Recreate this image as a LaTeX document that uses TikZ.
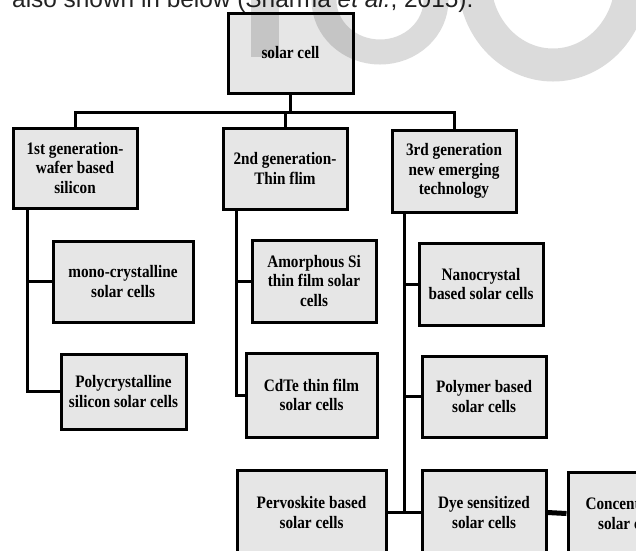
\documentclass[tikz,border=0pt]{standalone}
\usepackage{fontspec}
\newfontfamily\boxfont{Liberation Serif}[FakeStretch=0.87]
\newfontfamily\hdrfont{Liberation Sans}
\definecolor{boxgray}{HTML}{E6E6E6}
\definecolor{hdrgray}{HTML}{222222}
\begin{document}
\begin{tikzpicture}[x=1pt,y=-1pt,
  box/.style={draw=black, line width=3pt, fill=boxgray, inner sep=0pt, align=center,
    font=\boxfont\bfseries\fontsize{17.5}{19.5}\selectfont},
  conn/.style={line width=3pt},
  thickconn/.style={line width=5pt},
  wmark/.style={black, opacity=0.14}]
\useasboundingbox (0,0) rectangle (636,550);
\clip (0,0) rectangle (636,550);
% header text (cut off at the top)
\node[anchor=base west, inner sep=0pt, text=hdrgray, font=\hdrfont\fontsize{24.4}{28}\selectfont] (hdr) at (12,7)
  {also shown in below (Sharma \textit{et al.}, 2015).};
% boxes
\node[box, minimum width=125pt, minimum height=80pt] (solar) at (290.5,53) {solar cell};
\node[box, minimum width=124pt, minimum height=80pt] (g1) at (75,168) {1st generation-\\wafer based\\silicon};
\node[box, minimum width=124pt, minimum height=81pt] (g2) at (285,168.5) {2nd generation-\\Thin flim};
\node[box, minimum width=124pt, minimum height=82pt] (g3) at (454,171) {3rd generation\\new emerging\\technology};
\node[box, minimum width=140pt, minimum height=81pt] (mono) at (123,281.5) {mono-crystalline\\solar cells};
\node[box, minimum width=125pt, minimum height=75pt] (poly) at (123.5,391.5) {Polycrystalline\\silicon solar cells};
\node[box, minimum width=124pt, minimum height=82pt] (amor) at (314,281) {Amorphous Si\\thin film solar\\cells};
\node[box, minimum width=131pt, minimum height=84pt] (cdte) at (311.5,395) {CdTe thin film\\solar cells};
\node[box, minimum width=124pt, minimum height=82pt] (nano) at (481,284) {Nanocrystal\\based solar cells};
\node[box, minimum width=124pt, minimum height=81pt] (polym) at (484,396.5) {Polymer based\\solar cells};
\node[box, minimum width=149pt, minimum height=85pt] (perv) at (311.5,512.5) {Pervoskite based\\solar cells};
\node[box, minimum width=124pt, minimum height=85pt] (dye) at (484,512.5) {Dye sensitized\\solar cells};
\node[box, minimum width=124pt, minimum height=83pt] (conc) at (630,513.5) {Concentrated\\solar cells};
% helper coordinates
\coordinate (bus) at (0,112);
\coordinate (t1) at (27,0);
\coordinate (t2) at (236,0);
\coordinate (t3) at (404,0);
% top level connectors
\draw[conn] (solar.south) -- (solar.south |- bus);
\draw[conn] (g1.north) -- (g1.north |- bus) -- (g3.north |- bus) -- (g3.north);
\draw[conn] (g2.north) -- (g2.north |- bus);
% first generation
\draw[conn] (t1 |- g1.south) -- (t1 |- poly.west) -- (poly.west);
\draw[conn] (t1 |- mono.west) -- (mono.west);
% second generation
\draw[conn] (t2 |- g2.south) -- (t2 |- cdte.west) -- (cdte.west);
\draw[conn] (t2 |- amor.west) -- (amor.west);
% third generation
\draw[conn] (t3 |- g3.south) -- (t3 |- dye.west) -- (dye.west);
\draw[conn] (t3 |- nano.west) -- (nano.west);
\draw[conn] (t3 |- polym.west) -- (polym.west);
\draw[conn] (t3 |- perv.east) -- (perv.east);
\draw[thickconn] (dye.east) -- (conc.west);
% watermark (partly visible)
\fill[wmark] (251,-5) rectangle (279,57);
\draw[wmark, line width=25pt] (380,0) ellipse [x radius=56, y radius=52];
\draw[wmark, line width=33pt] (553,-20) ellipse [x radius=78.5, y radius=85];
\end{tikzpicture}
\end{document}
